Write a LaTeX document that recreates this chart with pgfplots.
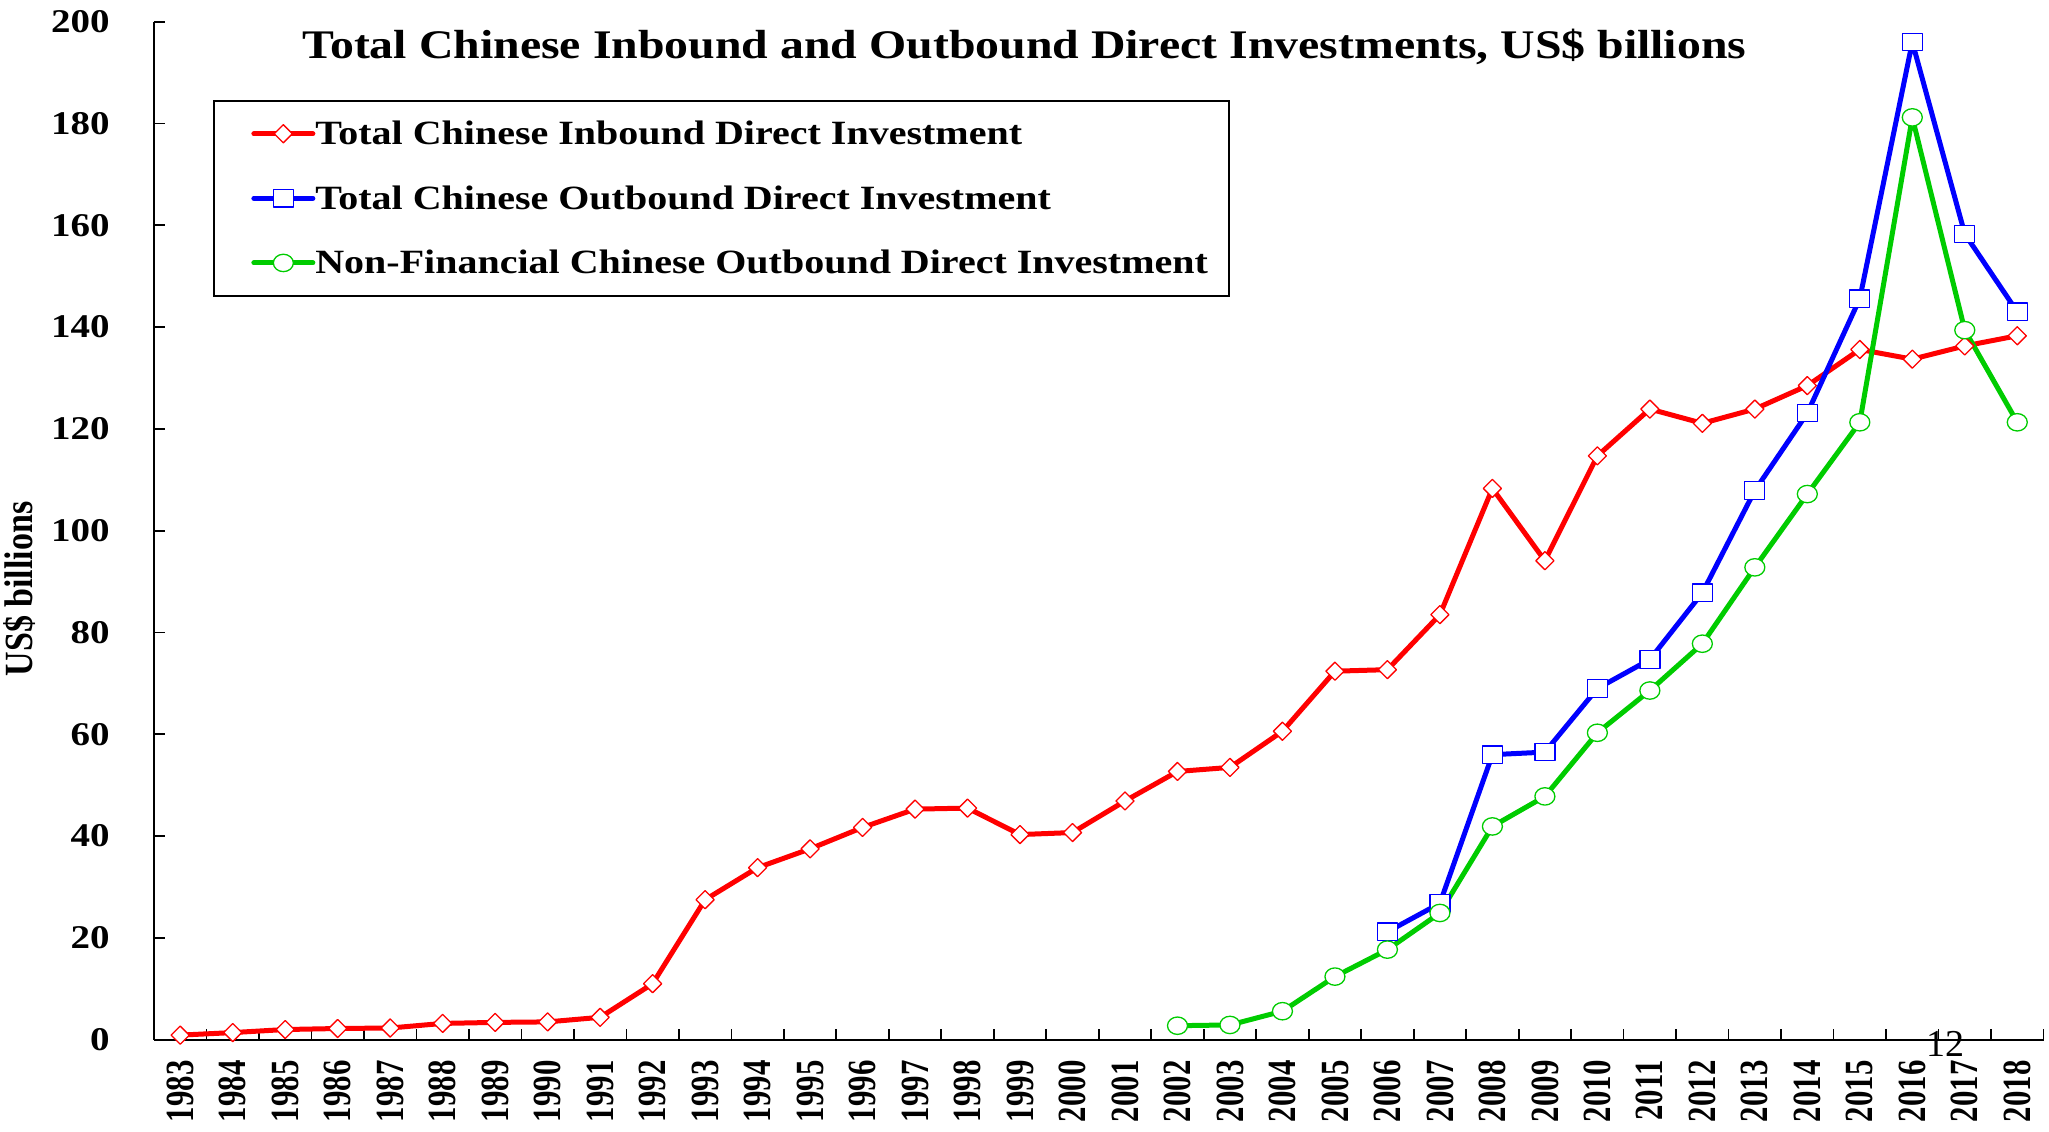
\documentclass[border=0pt]{standalone}
\usepackage{pgfplots}
\pgfplotsset{compat=1.18}
\usepackage{graphicx}
\usepackage{fontspec}
\setmainfont{Liberation Serif}
\definecolor{cred}{RGB}{255,0,0}
\definecolor{cblue}{RGB}{0,0,255}
\definecolor{cgreen}{RGB}{0,204,0}
\newcommand\sq[1]{\scalebox{1}[0.85]{#1}}
\newcommand\xl[1]{\scalebox{0.77}[1]{#1}}
\newcommand\yl[1]{\scalebox{0.85}[1]{#1}}
\begin{document}
\begin{tikzpicture}
\useasboundingbox (0,0) rectangle (1024.5pt,565.5pt);
\begin{axis}[
  at={(77pt,45.65pt)}, anchor=south west,
  scale only axis, width=944.75pt, height=509pt,
  xmin=-0.5, xmax=35.5, ymin=0, ymax=200,
  axis lines*=left,
  axis line style={black, line width=0.85pt},
  tick align=inside,
  major tick length=5.5pt,
  tick style={black, line width=0.85pt},
  xtick={-0.5,0.5,...,35.5},
  xticklabels={},
  extra x ticks={0,1,...,35},
  extra x tick labels={\xl{1983},\xl{1984},\xl{1985},\xl{1986},\xl{1987},\xl{1988},\xl{1989},\xl{1990},\xl{1991},\xl{1992},\xl{1993},\xl{1994},\xl{1995},\xl{1996},\xl{1997},\xl{1998},\xl{1999},\xl{2000},\xl{2001},\xl{2002},\xl{2003},\xl{2004},\xl{2005},\xl{2006},\xl{2007},\xl{2008},\xl{2009},\xl{2010},\xl{2011},\xl{2012},\xl{2013},\xl{2014},\xl{2015},\xl{2016},\xl{2017},\xl{2018}},
  extra x tick style={major tick length=0pt},
  xticklabel style={yshift=-10.2pt, rotate=90, anchor=east, inner sep=0pt, font=\fontsize{20}{22}\selectfont\bfseries},
  ytick={0,20,...,200},
  yticklabels={\sq{0},\sq{20},\sq{40},\sq{60},\sq{80},\sq{100},\sq{120},\sq{140},\sq{160},\sq{180},\sq{200}},
  yticklabel style={xshift=-22pt, anchor=east, inner sep=0pt, font=\fontsize{19.5}{22}\selectfont\bfseries},
  ylabel={\yl{US\$ billions}},
  ylabel style={at={(axis description cs:-0.0709,0.4427)}, anchor=center, font=\fontsize{20}{24}\selectfont\bfseries},
  clip=false,
  legend style={at={(rel axis cs:0.03138,0.92308)}, anchor=north west,
    draw=black, line width=0.85pt,
    inner xsep=10.5pt, inner ysep=9.95pt,
    row sep=19.3pt, column sep=0pt,
    font=\fontsize{20}{24}\selectfont\bfseries,
    nodes={inner sep=0pt, text height=12pt, text depth=1pt}},
  legend cell align=left,
  legend image code/.code={
    \path[draw=none, fill=none] (-9.35pt,0pt) -- (0pt,0pt);
    \draw[mark repeat=2,mark phase=2,line cap=round] plot coordinates {(0pt,0pt) (14.75pt,0pt) (29.5pt,0pt)};
  },
]
\addplot[color=cred, line width=2.5pt, line join=round, mark=square*, mark size=3.2pt,
  mark options={rotate=45, fill=white, draw=cred, line width=0.65pt, solid}] coordinates {
(0,0.9) (1,1.4) (2,2.0) (3,2.2) (4,2.3) (5,3.2) (6,3.4) (7,3.5) (8,4.4) (9,11.0)
(10,27.5) (11,33.8) (12,37.5) (13,41.7) (14,45.3) (15,45.5) (16,40.3) (17,40.7) (18,46.9) (19,52.7)
(20,53.5) (21,60.6) (22,72.4) (23,72.7) (24,83.5) (25,108.3) (26,94.1) (27,114.7) (28,123.9) (29,121.1)
(30,123.9) (31,128.5) (32,135.6) (33,133.7) (34,136.3) (35,138.3)};
\addlegendentry{\sq{Total Chinese Inbound Direct Investment}}
\addplot[color=cblue, line width=2.5pt, line join=round, mark=square*, mark size=5pt,
  mark options={yscale=0.87, fill=white, draw=cblue, line width=0.65pt, solid}] coordinates {
(23,21.2) (24,26.8) (25,56.0) (26,56.5) (27,69.0) (28,74.7) (29,87.8) (30,107.9) (31,123.1) (32,145.6)
(33,196.0) (34,158.3) (35,143.0)};
\addlegendentry{\sq{Total Chinese Outbound Direct Investment}}
\addplot[color=cgreen, line width=2.5pt, line join=round, mark=*, mark size=5pt,
  mark options={yscale=0.87, fill=white, draw=cgreen, line width=0.65pt, solid}] coordinates {
(19,2.75) (20,2.9) (21,5.6) (22,12.4) (23,17.7) (24,24.9) (25,41.9) (26,47.8) (27,60.3) (28,68.6)
(29,77.8) (30,92.8) (31,107.2) (32,121.3) (33,181.2) (34,139.4) (35,121.3)};
\addlegendentry{\sq{Non-Financial Chinese Outbound Direct Investment}}
\node[anchor=base, font=\fontsize{23.9}{28}\selectfont\bfseries] at (rel axis cs:0.4607,0.9643) {\sq{Total Chinese Inbound and Outbound Direct Investments, US\$ billions}};
\node[font=\fontsize{19}{22}\selectfont] at (rel axis cs:0.948,-0.004) {12};
\end{axis}
\end{tikzpicture}
\end{document}
